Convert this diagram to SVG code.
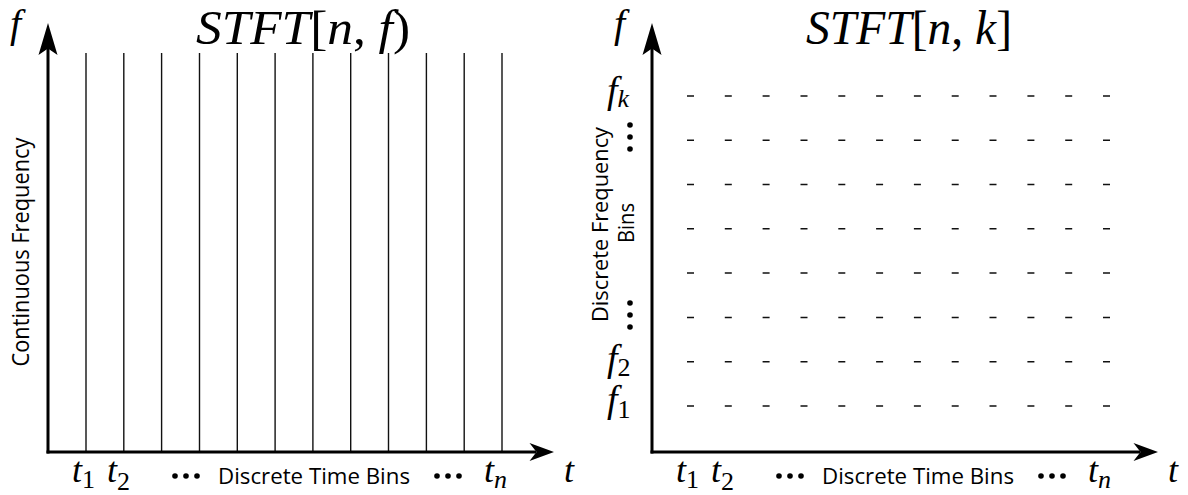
<svg xmlns="http://www.w3.org/2000/svg" width="1188" height="495" viewBox="0 0 1188 495">
<style>
.axis{stroke:#000;stroke-width:3;fill:none}
.head{fill:#000;stroke:none}
.grid{stroke:#111;stroke-width:1.4}
.dash{stroke:#111;stroke-width:1.5}
.dot{fill:#000}
.math{font-family:"Liberation Serif","DejaVu Serif",serif;font-style:italic;fill:#000}
.rm{font-style:normal}
.lbl{font-family:"Open Sans","Liberation Sans",sans-serif;fill:#000}
</style>
<rect width="1188" height="495" fill="#fff"/>

<g id="left-panel">
  <g id="left-grid">
    <line class="grid" x1="86" y1="53" x2="86" y2="452"/>
    <line class="grid" x1="123.8" y1="53" x2="123.8" y2="452"/>
    <line class="grid" x1="161.6" y1="53" x2="161.6" y2="452"/>
    <line class="grid" x1="199.5" y1="53" x2="199.5" y2="452"/>
    <line class="grid" x1="237.3" y1="53" x2="237.3" y2="452"/>
    <line class="grid" x1="275.1" y1="53" x2="275.1" y2="452"/>
    <line class="grid" x1="312.9" y1="53" x2="312.9" y2="452"/>
    <line class="grid" x1="350.7" y1="53" x2="350.7" y2="452"/>
    <line class="grid" x1="388.5" y1="53" x2="388.5" y2="452"/>
    <line class="grid" x1="426.4" y1="53" x2="426.4" y2="452"/>
    <line class="grid" x1="464.2" y1="53" x2="464.2" y2="452"/>
    <line class="grid" x1="502" y1="53" x2="502" y2="452"/>
  </g>
  <g id="left-axes">
    <line class="axis" x1="48" y1="453.5" x2="48" y2="46"/>
    <path class="head" d="M48,23 L57.5,55 L48,48.5 L38.5,55 Z"/>
    <line class="axis" x1="46.5" y1="452" x2="536" y2="452"/>
    <path class="head" d="M554,452 L529.5,443 L536.5,452 L529.5,461 Z"/>
  </g>
  <text class="math" x="303" y="44" font-size="48" text-anchor="middle" textLength="214" lengthAdjust="spacingAndGlyphs">STFT<tspan class="rm">[</tspan>n<tspan class="rm">, </tspan>f<tspan class="rm">)</tspan></text>
  <text class="math" x="10" y="37" font-size="40">f</text>
  <text class="lbl" font-size="23" text-anchor="middle" textLength="229" lengthAdjust="spacingAndGlyphs" transform="translate(29,252) rotate(-90)">Continuous Frequency</text>
  <text class="math" x="72" y="482" font-size="36">t<tspan font-size="26" class="rm" dy="6">1</tspan></text>
  <text class="math" x="107" y="482" font-size="36">t<tspan font-size="26" class="rm" dy="8">2</tspan></text>
  <circle class="dot" cx="175" cy="476" r="2.8"/>
  <circle class="dot" cx="186" cy="476" r="2.8"/>
  <circle class="dot" cx="197" cy="476" r="2.8"/>
  <text class="lbl" x="314" y="484" font-size="21" text-anchor="middle" textLength="192" lengthAdjust="spacingAndGlyphs">Discrete Time Bins</text>
  <circle class="dot" cx="437" cy="476" r="2.8"/>
  <circle class="dot" cx="448" cy="476" r="2.8"/>
  <circle class="dot" cx="459" cy="476" r="2.8"/>
  <text class="math" x="484" y="482" font-size="36">t<tspan font-size="26" dy="6">n</tspan></text>
  <text class="math" x="564" y="482" font-size="36">t</text>
</g>

<g id="right-panel">
  <g id="right-grid">
    <path class="dash" d="M687,95.9h7M724.8,95.9h7M762.6,95.9h7M800.5,95.9h7M838.3,95.9h7M876.1,95.9h7M913.9,95.9h7M951.7,95.9h7M989.5,95.9h7M1027.4,95.9h7M1065.2,95.9h7M1103,95.9h7"/>
    <path class="dash" d="M687,140.2h7M724.8,140.2h7M762.6,140.2h7M800.5,140.2h7M838.3,140.2h7M876.1,140.2h7M913.9,140.2h7M951.7,140.2h7M989.5,140.2h7M1027.4,140.2h7M1065.2,140.2h7M1103,140.2h7"/>
    <path class="dash" d="M687,184.5h7M724.8,184.5h7M762.6,184.5h7M800.5,184.5h7M838.3,184.5h7M876.1,184.5h7M913.9,184.5h7M951.7,184.5h7M989.5,184.5h7M1027.4,184.5h7M1065.2,184.5h7M1103,184.5h7"/>
    <path class="dash" d="M687,228.8h7M724.8,228.8h7M762.6,228.8h7M800.5,228.8h7M838.3,228.8h7M876.1,228.8h7M913.9,228.8h7M951.7,228.8h7M989.5,228.8h7M1027.4,228.8h7M1065.2,228.8h7M1103,228.8h7"/>
    <path class="dash" d="M687,273.1h7M724.8,273.1h7M762.6,273.1h7M800.5,273.1h7M838.3,273.1h7M876.1,273.1h7M913.9,273.1h7M951.7,273.1h7M989.5,273.1h7M1027.4,273.1h7M1065.2,273.1h7M1103,273.1h7"/>
    <path class="dash" d="M687,317.4h7M724.8,317.4h7M762.6,317.4h7M800.5,317.4h7M838.3,317.4h7M876.1,317.4h7M913.9,317.4h7M951.7,317.4h7M989.5,317.4h7M1027.4,317.4h7M1065.2,317.4h7M1103,317.4h7"/>
    <path class="dash" d="M687,361.7h7M724.8,361.7h7M762.6,361.7h7M800.5,361.7h7M838.3,361.7h7M876.1,361.7h7M913.9,361.7h7M951.7,361.7h7M989.5,361.7h7M1027.4,361.7h7M1065.2,361.7h7M1103,361.7h7"/>
    <path class="dash" d="M687,406h7M724.8,406h7M762.6,406h7M800.5,406h7M838.3,406h7M876.1,406h7M913.9,406h7M951.7,406h7M989.5,406h7M1027.4,406h7M1065.2,406h7M1103,406h7"/>
  </g>
  <g id="right-axes">
    <line class="axis" x1="652" y1="453.5" x2="652" y2="46"/>
    <path class="head" d="M652,23 L661.5,55 L652,48.5 L642.5,55 Z"/>
    <line class="axis" x1="650.5" y1="452" x2="1140" y2="452"/>
    <path class="head" d="M1158,452 L1133.5,443 L1140.5,452 L1133.5,461 Z"/>
  </g>
  <text class="math" x="909" y="44" font-size="48" text-anchor="middle" textLength="206" lengthAdjust="spacingAndGlyphs">STFT<tspan class="rm">[</tspan>n<tspan class="rm">, </tspan>k<tspan class="rm">]</tspan></text>
  <text class="math" x="614" y="37" font-size="40">f</text>
  <text class="math" x="607" y="103" font-size="38">f<tspan font-size="26" dy="4">k</tspan></text>
  <circle class="dot" cx="630" cy="125" r="2.8"/>
  <circle class="dot" cx="630" cy="137" r="2.8"/>
  <circle class="dot" cx="630" cy="149" r="2.8"/>
  <text class="lbl" font-size="21" text-anchor="middle" textLength="195" lengthAdjust="spacingAndGlyphs" transform="translate(608,224.5) rotate(-90)">Discrete Frequency</text>
  <text class="lbl" font-size="21" text-anchor="middle" textLength="40" lengthAdjust="spacingAndGlyphs" transform="translate(634,223) rotate(-90)">Bins</text>
  <circle class="dot" cx="630" cy="303" r="2.8"/>
  <circle class="dot" cx="630" cy="315" r="2.8"/>
  <circle class="dot" cx="630" cy="327" r="2.8"/>
  <text class="math" x="607" y="371" font-size="38">f<tspan font-size="26" class="rm" dy="5">2</tspan></text>
  <text class="math" x="607" y="412" font-size="38">f<tspan font-size="26" class="rm" dy="6">1</tspan></text>
  <text class="math" x="676" y="482" font-size="36">t<tspan font-size="26" class="rm" dy="6">1</tspan></text>
  <text class="math" x="711" y="482" font-size="36">t<tspan font-size="26" class="rm" dy="8">2</tspan></text>
  <circle class="dot" cx="779" cy="476" r="2.8"/>
  <circle class="dot" cx="790" cy="476" r="2.8"/>
  <circle class="dot" cx="801" cy="476" r="2.8"/>
  <text class="lbl" x="918" y="484" font-size="21" text-anchor="middle" textLength="192" lengthAdjust="spacingAndGlyphs">Discrete Time Bins</text>
  <circle class="dot" cx="1041" cy="476" r="2.8"/>
  <circle class="dot" cx="1052" cy="476" r="2.8"/>
  <circle class="dot" cx="1063" cy="476" r="2.8"/>
  <text class="math" x="1088" y="482" font-size="36">t<tspan font-size="26" dy="6">n</tspan></text>
  <text class="math" x="1168" y="482" font-size="36">t</text>
</g>
</svg>
